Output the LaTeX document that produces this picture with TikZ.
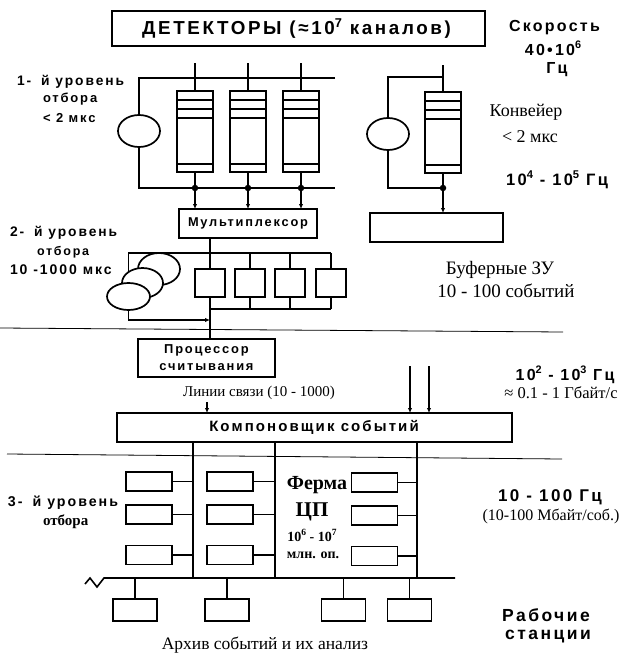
\documentclass[tikz,border=0pt]{standalone}
\usepackage{fontspec}
\setmainfont{Liberation Serif}
\newfontfamily\hsans{Liberation Sans}[LetterSpace=14]
\usetikzlibrary{arrows.meta,shapes.geometric}
\pgfdeclarelayer{bg}
\pgfsetlayers{bg,main}
\newcommand\supr[1]{\raisebox{0.42em}{\scalebox{0.68}{#1}}}
\tikzset{
  ln/.style={line width=1.6pt},
  box/.style={draw, line width=1.7pt, inner sep=0pt, outer sep=0pt, fill=white},
  ell/.style={draw, ellipse, line width=1.7pt, inner sep=0pt, outer sep=0pt, fill=white},
  sep/.style={line width=0.8pt},
  arr/.style={line width=1.6pt, -{Latex[length=5pt,width=4.5pt]}},
  dot/.style={circle, fill=black, inner sep=0pt, minimum size=6.5pt},
  sb/.style={inner sep=0pt, outer sep=0pt, align=center, font=\hsans\bfseries\fontsize{#1}{#1}\selectfont},
  sb/.default=13,
  sr/.style={inner sep=0pt, outer sep=0pt, align=center, font=\fontsize{#1}{#1}\selectfont},
  sr/.default=17,
  srb/.style={inner sep=0pt, outer sep=0pt, align=center, font=\bfseries\fontsize{#1}{#1}\selectfont},
  pipe/.style={box, minimum width=36pt, minimum height=81pt},
  buf/.style={box, minimum width=30pt, minimum height=28pt},
  cpu/.style={box, minimum width=46pt, minimum height=19pt},
  ws/.style={box, minimum width=44pt, minimum height=22pt},
}
\begin{document}
\begin{tikzpicture}[x=1pt,y=-1pt]
\useasboundingbox (0,0) rectangle (623,653);
% title
\node[box, minimum width=373pt, minimum height=35pt] (title) at (298.5,28.5) {};
\node[sb=18.8] (titlet) at (296.5,28.5) {ДЕТЕКТОРЫ (≈10\supr{7} каналов)};
\node[sb=16] (spd) at (554.5,28) {Скорость};
\node[sb=16] (spd2) at (553,48) {40•10\supr{6}};
\node[sb=16] (spd3) at (557,70) {Гц};

% level 1 left group
\coordinate (tl) at (139,78);
\coordinate (tr) at (335,78);
\coordinate (bl) at (139,188);
\coordinate (br) at (335,188);
\node[ell, minimum width=42pt, minimum height=32pt] (e1) at (139,131) {};
\draw[ln] (tr) -- (tl) -- (e1.north);
\draw[ln] (e1.south) -- (bl) -- (br);
\node[box, minimum width=138pt, minimum height=29pt] (mux) at (248,223.5) {};
\node[sb=12.8] (muxt) at (mux) {Мультиплексор};
\foreach \i/\x in {1/195,2/248,3/301}{
  \coordinate (v\i) at (\x,63);
  \node[pipe] (p\i) at (\x,131.5) {};
  \foreach \d in {9,18,27,73} \draw[ln] (p\i.north west) ++(0,\d) -- ++(36,0);
  \draw[ln] (v\i) -- (p\i.north);
  \node[dot] (d\i) at (\x,188) {};
  \draw[ln] (p\i.south) -- (d\i);
  \draw[arr] (d\i) -- (d\i |- mux.north);
}

% right pipeline
\coordinate (rt) at (443,65);
\coordinate (rtl) at (388,77);
\node[ell, minimum width=42pt, minimum height=32pt] (e2) at (388,134) {};
\node[pipe] (p4) at (443,132.5) {};
\foreach \d in {9,18,27,73} \draw[ln] (p4.north west) ++(0,\d) -- ++(36,0);
\draw[ln] (rt) -- (p4.north);
\draw[ln] (e2.north) -- (rtl) -- (rtl -| p4.north);
\node[dot] (d4) at (443,188) {};
\node[box, minimum width=133pt, minimum height=29pt] (rbuf) at (436.5,227.5) {};
\draw[ln] (e2.south) |- (d4);
\draw[ln] (p4.south) -- (d4);
\draw[arr] (d4) -- (d4 |- rbuf.north);

\node[sr=18] (konv) at (526,112) {Конвейер};
\node[sr=18] (konv2) at (530,137) {< 2 мкс};
\node[sb=16.5] (f45) at (557,180) {10\supr{4} - 10\supr{5} Гц};

\node[sb=13.8, anchor=west] (l1a) at (17,82) {1-\hspace{10pt}й уровень};
\node[sb=13, anchor=west] (l1b) at (43,99) {отбора};
\node[sb=13, anchor=west] (l1c) at (43,118) {< 2 мкс};

% level 2
\node[sb=13.8, anchor=west] (l2a) at (10,233) {2-\hspace{10pt}й уровень};
\node[sb=12.5, anchor=west] (l2b) at (37,252) {отбора};
\node[sb=14, anchor=west] (l2c) at (10,270) {10 -1000 мкс};

\coordinate (bt) at (210,253);
\coordinate (btr) at (331,253);
\coordinate (bbr) at (331,309);
\node[buf] (b1) at (210,283) {};
\node[buf] (b2) at (250,283) {};
\node[buf] (b3) at (290,283) {};
\node[buf] (b4) at (331,283) {};
\node[ell, minimum width=42pt, minimum height=32pt] (el3) at (159,269) {};
\node[ell, minimum width=41pt, minimum height=30pt] (el2) at (142.5,283) {};
\node[ell, minimum width=43pt, minimum height=27pt] (el1) at (128.5,296.5) {};
\begin{pgfonlayer}{bg}
\draw[ln] (mux.south -| bt) -- (bt);
\draw[ln] (btr) -- (el1.north |- bt) -- (el1.north);
\foreach \i in {1,2,3,4} \draw[ln] (b\i.north |- bt) -- (b\i.north);
\foreach \i in {2,3,4} \draw[ln] (b\i.south) -- (b\i.south |- bbr);
\draw[ln] (b1.south |- bbr) -- (bbr);
\end{pgfonlayer}
\coordinate (aa) at (210,320);
\draw[arr] (el1.south) |- (aa);

\node[sr=19] (bufz) at (500,270) {Буферные ЗУ};
\node[sr=19] (bufz2) at (506,291) {10 - 100 событий};

\coordinate (s1a) at (0,328);
\coordinate (s1b) at (563,332);
\draw[sep] (s1a) -- (s1b);

\node[box, minimum width=137pt, minimum height=38pt] (proc) at (206.5,358) {};
\node[sb=12.9] (proct) at (proc) {Процессор\\[4pt]считывания};
\draw[ln] (b1.south) -- (b1.south |- proc.north);

\node[sb=16] (f23) at (565,375) {10\supr{2} - 10\supr{3} Гц};
\node[sr=16.5] (gb) at (561,393) {≈ 0.1 - 1 Гбайт/с};

\node[sr=15] (links) at (259,393) {Линии связи (10 - 1000)};
\node[box, minimum width=395pt, minimum height=29pt] (eb) at (314.5,427.5) {};
\node[sb=15] (ebt) at (314,427.5) {Компоновщик событий};
\coordinate (la) at (207,402);
\draw[arr] (la) -- (la |- eb.north);
\coordinate (i1) at (410,366);
\coordinate (i2) at (429,366);
\draw[arr] (i1) -- (i1 |- eb.north);
\draw[arr] (i2) -- (i2 |- eb.north);

\coordinate (s2a) at (7,454);
\coordinate (s2b) at (562,459);
\draw[sep] (s2a) -- (s2b);

% farm
\coordinate (f1) at (193,578);
\coordinate (f2) at (275,578);
\coordinate (f3) at (417,578);
\coordinate (q1) at (85,584);
\coordinate (q2) at (90,578);
\coordinate (q3) at (97,587);
\coordinate (bs) at (104,578);
\coordinate (be) at (455,578);
\foreach \f in {f1,f2,f3} \draw[ln] (eb.south -| \f) -- (\f);
\draw[ln] (q1) -- (q2) -- (q3) -- (bs) -- (be);
\foreach \r/\y in {1/481.5,2/514.5,3/555}{
  \node[cpu] (ca\r) at (149,\y) {};
  \node[cpu] (cb\r) at (230,\y) {};
  \draw[ln] (ca\r.east) -- (ca\r.east -| f1);
  \draw[ln] (cb\r.east) -- (cb\r.east -| f2);
}
\foreach \r/\y in {1/482.5,2/515.5,3/556}{
  \node[cpu] (cc\r) at (374.5,\y) {};
  \draw[ln] (cc\r.east) -- (cc\r.east -| f3);
}
\node[srb=20] (ferma) at (317,485) {Ферма};
\node[srb=21] (cp) at (312,512) {ЦП};
\node[srb=14] (ops) at (312,535) {10\supr{6} - 10\supr{7}};
\node[srb=14] (ops2) at (313,555) {млн. оп.};

\node[sb=14.2, anchor=west] (l3a) at (8,503) {3-\hspace{10pt}й уровень};
\node[srb=15, anchor=west] (l3b) at (43,522) {отбора};

\node[sb=17] (f100) at (550,497) {10 - 100 Гц};
\node[sr=16] (mb) at (551,516) {(10-100 Мбайт/соб.)};

% workstations
\foreach \i/\x in {1/135,2/227,3/343.5,4/409.5}{
  \node[ws] (w\i) at (\x,610) {};
  \draw[ln] (w\i.north |- bs) -- (w\i.north);
}
\node[sb=17.5] (rab) at (546,615) {Рабочие};
\node[sb=17.5] (rab2) at (548,637) {станции};
\node[sr=17.5, anchor=base] (arch) at (265,649) {Архив событий и их анализ};
\end{tikzpicture}
\end{document}
